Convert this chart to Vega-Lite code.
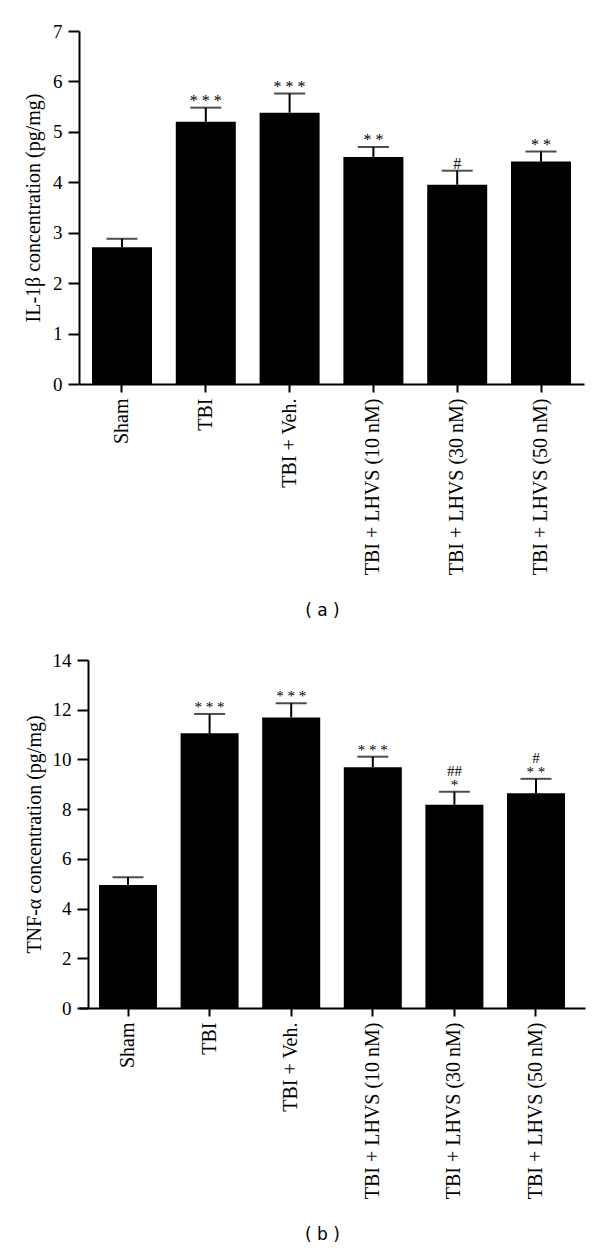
{
  "$schema": "https://vega.github.io/schema/vega-lite/v6.json",
  "background": "white",
  "padding": {"left": 23, "top": 22, "right": 5, "bottom": 5},
  "spacing": 32,
  "config": {
    "view": {"stroke": null},
    "font": "Liberation Serif",
    "axis": {
      "grid": false,
      "domainColor": "black",
      "domainWidth": 2,
      "tickColor": "black",
      "tickWidth": 2,
      "labelColor": "black",
      "labelFont": "Liberation Serif",
      "labelLimit": 0,
      "titleColor": "black",
      "titleFont": "Liberation Serif",
      "titleFontWeight": "normal"
    }
  },
  "datasets": {
    "il1b": [
      {"group": "Sham", "mean": 2.71, "upper": 2.88, "sig": "", "sig2": ""},
      {"group": "TBI", "mean": 5.20, "upper": 5.48, "sig": "* * *", "sig2": ""},
      {"group": "TBI + Veh.", "mean": 5.38, "upper": 5.76, "sig": "* * *", "sig2": ""},
      {"group": "TBI + LHVS (10 nM)", "mean": 4.50, "upper": 4.70, "sig": "* *", "sig2": ""},
      {"group": "TBI + LHVS (30 nM)", "mean": 3.95, "upper": 4.23, "sig": "#", "sig2": ""},
      {"group": "TBI + LHVS (50 nM)", "mean": 4.41, "upper": 4.61, "sig": "* *", "sig2": ""}
    ],
    "tnfa": [
      {"group": "Sham", "mean": 4.95, "upper": 5.26, "sig": "", "sig2": ""},
      {"group": "TBI", "mean": 11.05, "upper": 11.83, "sig": "* * *", "sig2": ""},
      {"group": "TBI + Veh.", "mean": 11.69, "upper": 12.26, "sig": "* * *", "sig2": ""},
      {"group": "TBI + LHVS (10 nM)", "mean": 9.69, "upper": 10.11, "sig": "* * *", "sig2": ""},
      {"group": "TBI + LHVS (30 nM)", "mean": 8.18, "upper": 8.70, "sig": "*", "sig2": "##"},
      {"group": "TBI + LHVS (50 nM)", "mean": 8.64, "upper": 9.22, "sig": "* *", "sig2": "#"}
    ]
  },
  "vconcat": [
    {
      "width": 505,
      "height": 353,
      "data": {"name": "il1b"},
      "encoding": {
        "x": {
          "field": "group", "type": "nominal", "sort": null,
          "scale": {"paddingInner": 0.284, "paddingOuter": 0.155},
          "axis": {
            "labelAngle": -90, "labelFontSize": 20, "labelPadding": 6, "tickSize": 8,
            "title": "( a )", "titleFont": "DejaVu Sans", "titleFontSize": 17,
            "titlePadding": 28, "titleX": 243
          }
        }
      },
      "layer": [
        {
          "mark": {"type": "bar", "color": "black"},
          "encoding": {
            "y": {
              "field": "mean", "type": "quantitative",
              "scale": {"domain": [0, 7], "nice": false},
              "axis": {
                "values": [0, 1, 2, 3, 4, 5, 6, 7], "tickSize": 11, "labelFontSize": 19,
                "labelPadding": 6, "titleFontSize": 20, "titlePadding": 9,
                "title": "IL-1β concentration (pg/mg)"
              }
            }
          }
        },
        {
          "mark": {"type": "rule", "color": "black", "strokeWidth": 2},
          "encoding": {"y": {"field": "mean", "type": "quantitative"}, "y2": {"field": "upper"}}
        },
        {
          "mark": {"type": "tick", "color": "black", "thickness": 2, "size": 31},
          "encoding": {"y": {"field": "upper", "type": "quantitative"}}
        },
        {
          "mark": {"type": "text", "color": "black", "fontSize": 16, "baseline": "alphabetic", "dy": -2},
          "encoding": {"y": {"field": "upper", "type": "quantitative"}, "text": {"field": "sig"}}
        }
      ]
    },
    {
      "width": 506,
      "height": 348,
      "data": {"name": "tnfa"},
      "encoding": {
        "x": {
          "field": "group", "type": "nominal", "sort": null,
          "scale": {"paddingInner": 0.289, "paddingOuter": 0.245},
          "axis": {
            "labelAngle": -90, "labelFontSize": 20, "labelPadding": 6, "tickSize": 8,
            "title": "( b )", "titleFont": "DejaVu Sans", "titleFontSize": 17,
            "titlePadding": 28, "titleX": 243
          }
        }
      },
      "layer": [
        {
          "mark": {"type": "bar", "color": "black"},
          "encoding": {
            "y": {
              "field": "mean", "type": "quantitative",
              "scale": {"domain": [0, 14], "nice": false},
              "axis": {
                "values": [0, 2, 4, 6, 8, 10, 12, 14], "offset": -9, "tickSize": 11, "labelFontSize": 19,
                "labelPadding": 6, "titleFontSize": 20, "titlePadding": 8,
                "title": "TNF-α concentration (pg/mg)"
              }
            }
          }
        },
        {
          "mark": {"type": "rule", "color": "black", "strokeWidth": 2},
          "encoding": {"y": {"field": "mean", "type": "quantitative"}, "y2": {"field": "upper"}}
        },
        {
          "mark": {"type": "tick", "color": "black", "thickness": 2, "size": 31},
          "encoding": {"y": {"field": "upper", "type": "quantitative"}}
        },
        {
          "mark": {"type": "text", "color": "black", "fontSize": 15, "baseline": "alphabetic", "dy": -2},
          "encoding": {"y": {"field": "upper", "type": "quantitative"}, "text": {"field": "sig"}}
        },
        {
          "mark": {"type": "text", "color": "black", "fontSize": 15, "baseline": "alphabetic", "dy": -16},
          "encoding": {"y": {"field": "upper", "type": "quantitative"}, "text": {"field": "sig2"}}
        }
      ]
    }
  ]
}
